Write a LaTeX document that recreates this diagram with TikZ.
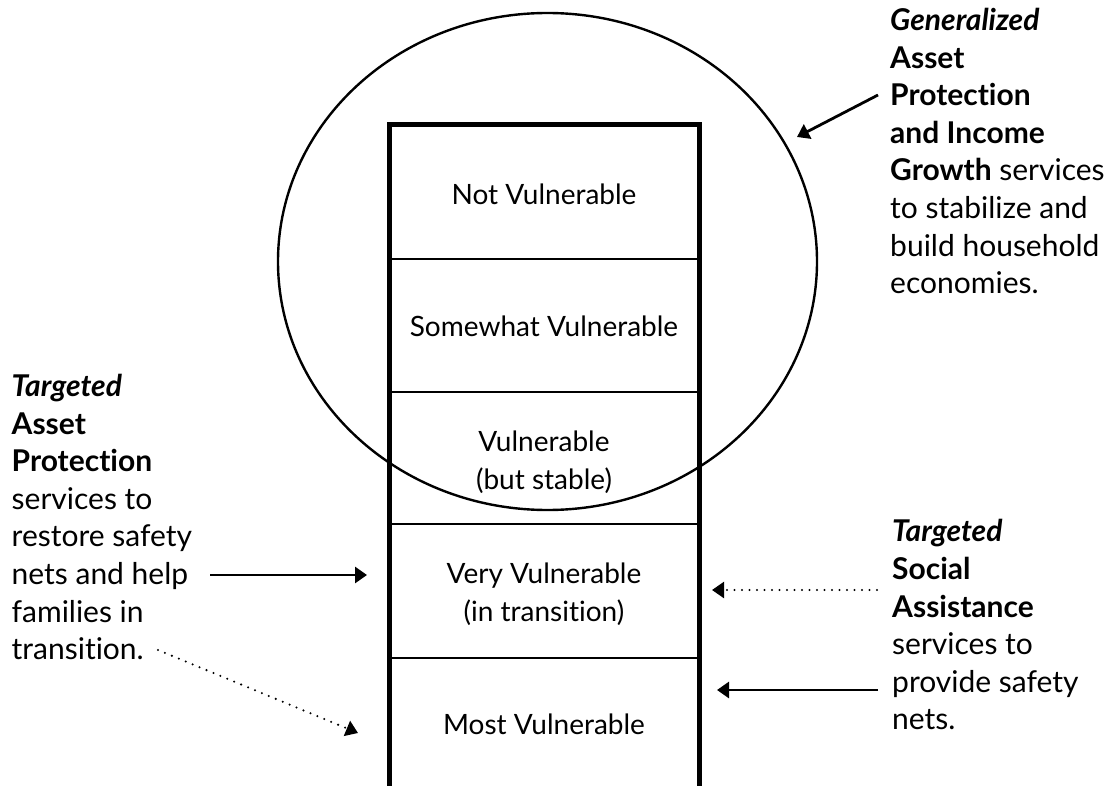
\documentclass[tikz,border=0pt]{standalone}
\usepackage{fontspec}
\setmainfont[Ligatures=NoCommon]{Lato}
\usetikzlibrary{arrows.meta}
\begin{document}
\begin{tikzpicture}[x=1pt,y=-1pt,
  every node/.style={inner sep=0pt},
  celltext/.style={font=\fontsize{28}{38}\selectfont, align=center},
  sidetext/.style={font=\fontsize{30}{37.6}\selectfont, align=left, anchor=north west},
  thickline/.style={line width=5pt},
  thinline/.style={line width=2.6pt},
  arr/.style={line width=2.8pt, -{Triangle[length=12pt,width=16pt]}},
  dotarr/.style={line width=2.3pt, dash pattern=on 0pt off 7.5pt, line cap=round, -{Triangle[length=12pt,width=16pt]}},
]
\useasboundingbox (0,0) rectangle (1118,786);
% enclosing ellipse
\draw[line width=2.4pt] (547.5,261.5) ellipse [x radius=269.5pt, y radius=248.5pt];
% column
\draw[thickline] (389,786) -- (389,125) -- (699,125) -- (699,786);
\draw[thinline] (389,259) -- (699,259);
\draw[thinline] (389,392) -- (699,392);
\draw[thinline] (389,524) -- (699,524);
\draw[thinline] (389,658) -- (699,658);
% cell texts
\node[celltext] (c1) at (544,194) {Not Vulnerable};
\node[celltext] (c2) at (544,326) {Somewhat Vulnerable};
\node[celltext] (c3) at (544,462) {Vulnerable\\(but stable)};
\node[celltext] (c4) at (544,594) {Very Vulnerable\\(in transition)};
\node[celltext] (c5) at (544,724) {Most Vulnerable};
% side texts
\node[sidetext] (gen) at (890,8) {\textbf{\textit{Generalized}}\\\textbf{Asset}\\\textbf{Protection}\\\textbf{and Income}\\\textbf{Growth} services\\to stabilize and\\build household\\economies.};
\node[sidetext] (tap) at (11.5,374) {\textbf{\textit{Targeted}}\\\textbf{Asset}\\\textbf{Protection}\\services to\\restore safety\\nets and help\\families in\\transition.};
\node[sidetext] (tsa) at (892,519.5) {\textbf{\textit{Targeted}}\\\textbf{Social}\\\textbf{Assistance}\\services to\\provide safety\\nets.};
% arrow end points
\coordinate (g0) at (878,95);
\coordinate (g1) at (797,137);
\coordinate (l0) at (210,575);
\coordinate (l1) at (367,575);
\coordinate (d0) at (158,650);
\coordinate (d1) at (358,733);
\coordinate (r0) at (877,590);
\coordinate (r1) at (712,590);
\coordinate (s0) at (878,690);
\coordinate (s1) at (717,690);
\draw[arr] (g0) -- (g1);
\draw[arr] (l0) -- (l1);
\draw[dotarr] (d0) -- (d1);
\draw[dotarr] (r0) -- (r1);
\draw[arr] (s0) -- (s1);
\end{tikzpicture}
\end{document}
